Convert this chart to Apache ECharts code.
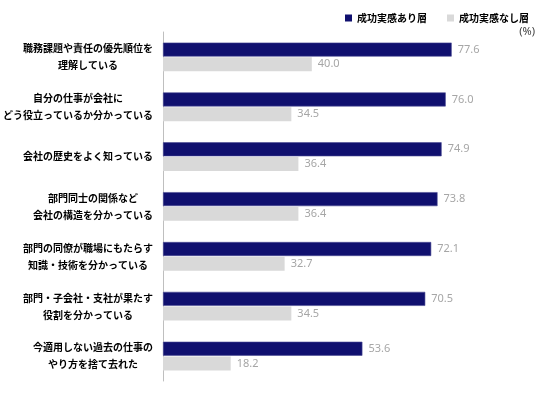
<!DOCTYPE html>
<html>
<head>
<meta charset="utf-8">
<script src="https://cdn.jsdelivr.net/npm/echarts@6/dist/echarts.min.js"></script>
<style>
  html, body { margin: 0; padding: 0; background: #ffffff; }
  #chart { width: 550px; height: 396px; }
</style>
</head>
<body>
<div id="chart"></div>
<script>
// 項目ラベル（上から順）
const categories = [
  '職務課題や責任の優先順位を\n理解している',
  '自分の仕事が会社に\nどう役立っているか分かっている',
  '会社の歴史をよく知っている',
  '部門同士の関係など\n会社の構造を分かっている',
  '部門の同僚が職場にもたらす\n知識・技術を分かっている',
  '部門・子会社・支社が果たす\n役割を分かっている',
  '今適用しない過去の仕事の\nやり方を捨て去れた'
];
const seriesNames = ['成功実感あり層', '成功実感なし層'];
const successYes = [77.6, 76.0, 74.9, 73.8, 72.1, 70.5, 53.6];
const successNo = [40.0, 34.5, 36.4, 36.4, 32.7, 34.5, 18.2];

const catFont = 'bold 10px "Noto Sans CJK JP"';

// 各ラベルの行を中央揃えにするため、最長行の幅を測る
const ctx = document.createElement('canvas').getContext('2d');
ctx.font = catFont;
const catRich = {};
categories.forEach((c, i) => {
  const w = Math.max(...c.split('\n').map(l => ctx.measureText(l).width));
  catRich['c' + i] = {
    width: Math.ceil(w),
    align: 'center',
    color: '#000000',
    fontSize: 10,
    fontWeight: 'bold',
    lineHeight: 17,
    fontFamily: 'Noto Sans CJK JP'
  };
});

const chart = echarts.init(document.getElementById('chart'));

const labelStyle = {
  show: true,
  position: 'right',
  distance: 6,
  color: '#a6a6a6',
  fontFamily: 'Noto Sans',
  fontSize: 11,
  formatter: p => p.value.toFixed(1)
};

const option = {
  animation: false,
  title: {
    text: '(%)',
    right: 10,
    top: 21,
    textStyle: {
      color: '#404040',
      fontSize: 11,
      fontWeight: 'normal',
      fontFamily: 'Noto Sans'
    }
  },
  legend: {
    data: seriesNames,
    right: 16,
    top: 8,
    icon: 'rect',
    itemWidth: 7,
    itemHeight: 7,
    itemGap: 20,
    itemStyle: { borderWidth: 0 },
    textStyle: {
      color: '#000000',
      fontSize: 10,
      fontWeight: 'bold',
      fontFamily: 'Noto Sans CJK JP'
    }
  },
  grid: {
    left: 163,
    right: 15,
    top: 32,
    bottom: 15
  },
  xAxis: {
    type: 'value',
    min: 0,
    max: 100,
    show: false
  },
  yAxis: {
    type: 'category',
    data: categories,
    inverse: true,
    axisLine: { lineStyle: { color: '#bfbfbf' } },
    axisTick: { inside: true, length: 3, lineStyle: { color: '#bfbfbf' } },
    axisLabel: {
      margin: 10,
      align: 'right',
      lineHeight: 17,
      fontFamily: 'Noto Sans CJK JP',
      rich: catRich,
      formatter: (v, i) => v.split('\n').map(l => '{c' + i + '|' + l + '}').join('\n')
    }
  },
  series: [
    {
      name: seriesNames[0],
      type: 'bar',
      data: successYes,
      barWidth: 14,
      barGap: '5%',
      itemStyle: { color: '#10106f', borderColor: '#4a4a94', borderWidth: 0.6 },
      label: labelStyle
    },
    {
      name: seriesNames[1],
      type: 'bar',
      data: successNo,
      barWidth: 14,
      itemStyle: { color: '#d9d9d9' },
      label: labelStyle
    }
  ]
};

chart.setOption(option);

window.addEventListener('resize', () => {
  chart.resize();
});
</script>
</body>
</html>
